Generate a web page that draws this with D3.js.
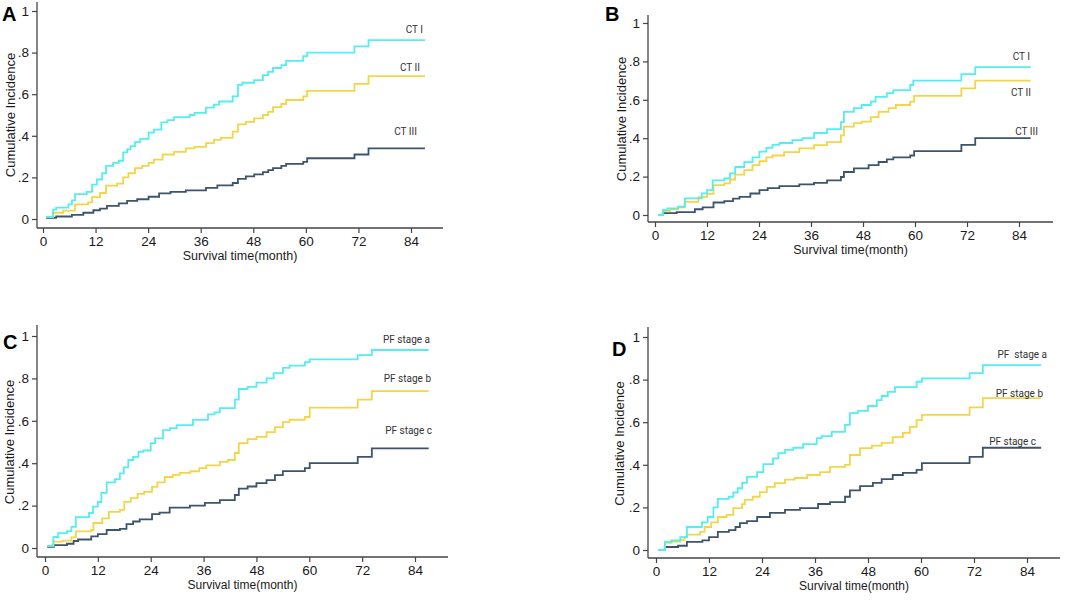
<!DOCTYPE html>
<html>
<head>
<meta charset="utf-8">
<script src="https://cdn.jsdelivr.net/npm/d3@7/dist/d3.min.js"></script>
<style>
  html, body { margin: 0; padding: 0; background: #fff; }
  svg { display: block; }
  text { font-family: "Liberation Sans", Arial, sans-serif; }
</style>
</head>
<body>
<svg id="chart" width="1065" height="601"></svg>
<script>
// ---------- data ----------
const monthTicks = [0, 12, 24, 36, 48, 60, 72, 84];
const incidenceTicks = [0, 0.2, 0.4, 0.6, 0.8, 1];
const incidenceTickLabels = ["0", ".2", ".4", ".6", ".8", "1"];
const xTitle = "Survival time(month)";
const yTitle = "Cumulative Incidence";

const panelLetters = ["A", "B", "C", "D"];
const labelsCT = ["CT I", "CT II", "CT III"];
const labelsPFc = ["PF stage a", "PF stage b", "PF stage c"];
const labelsPFd = ["PF  stage a", "PF stage b", "PF stage c"];

// [month, cumulative incidence] step points
const panelA_CT1 = [[0.7,0.01],[2.3,0.045],[3,0.055],[5.8,0.07],[6.6,0.09],[7.3,0.12],[10,0.13],[11.2,0.165],[12.3,0.19],[13.5,0.22],[14.4,0.255],[16,0.27],[17.3,0.28],[18.3,0.32],[19.2,0.335],[20,0.35],[21,0.37],[22.2,0.385],[24.1,0.415],[25.3,0.43],[27,0.465],[28.4,0.475],[29.9,0.49],[33.5,0.5],[34.6,0.51],[37.2,0.535],[39,0.55],[40.2,0.565],[43.3,0.59],[44.5,0.645],[45.5,0.655],[48.2,0.668],[50.2,0.692],[51.4,0.707],[52.5,0.726],[54.4,0.74],[55.5,0.76],[59.4,0.783],[60.3,0.80],[71.1,0.83],[74.3,0.86],[87.2,0.86]];
const panelA_CT2 = [[0.7,0.01],[2.3,0.03],[4.6,0.04],[7.3,0.07],[10.3,0.08],[11.2,0.105],[13,0.125],[14.4,0.16],[16.9,0.17],[18.3,0.2],[19.5,0.22],[21,0.245],[22.6,0.255],[24.1,0.27],[25.3,0.285],[27.3,0.31],[29.9,0.323],[32.6,0.34],[34.6,0.347],[37.2,0.365],[39,0.38],[40.6,0.39],[43.3,0.42],[44.5,0.455],[46.3,0.467],[48.2,0.484],[50.2,0.5],[51.4,0.515],[52.5,0.538],[54.4,0.553],[55.5,0.572],[59.4,0.59],[60.3,0.616],[71.1,0.65],[74.3,0.687],[87.2,0.687]];
const panelA_CT3 = [[0.7,0.005],[3,0.012],[6.6,0.02],[9.2,0.03],[11.5,0.042],[13,0.05],[14.6,0.063],[17.3,0.075],[19.2,0.087],[21.5,0.095],[24.1,0.107],[26.5,0.123],[29.1,0.13],[32.6,0.138],[37.2,0.15],[39.8,0.162],[43.3,0.173],[44.5,0.193],[46.3,0.205],[48.2,0.215],[50.2,0.225],[51.4,0.235],[52.5,0.245],[54.4,0.255],[55.5,0.265],[59.4,0.275],[60.3,0.292],[71.1,0.31],[74.3,0.34],[87.2,0.34]];

const panelB_CT1 = [[0.7,0.0],[1.8,0.026],[2.9,0.035],[5.3,0.043],[6.9,0.087],[10.8,0.113],[12,0.13],[13.3,0.18],[16,0.19],[17.3,0.217],[18.5,0.25],[20.6,0.275],[22.5,0.30],[24.1,0.33],[25.7,0.35],[27.1,0.365],[28.7,0.375],[31.7,0.39],[34,0.40],[36.7,0.427],[39.7,0.447],[42.9,0.484],[43.6,0.537],[45.9,0.557],[47.7,0.573],[49.8,0.59],[50.9,0.615],[53.5,0.635],[55,0.65],[58.9,0.677],[59.6,0.70],[70.7,0.734],[73.9,0.77],[86.7,0.77]];
const panelB_CT2 = [[0.7,0.0],[1.8,0.02],[3.5,0.03],[5.3,0.04],[6.9,0.068],[10,0.093],[12,0.11],[13.5,0.156],[16,0.165],[17.3,0.185],[18.5,0.21],[20.6,0.234],[22.5,0.26],[24.1,0.28],[25.7,0.30],[27.1,0.31],[29.8,0.327],[33.3,0.347],[36.7,0.364],[39.7,0.38],[42.9,0.415],[43.6,0.46],[45.9,0.478],[47.7,0.486],[49.8,0.51],[51.6,0.537],[53.9,0.557],[55.6,0.573],[58.9,0.59],[59.8,0.62],[70.7,0.66],[73.9,0.70],[86.7,0.70]];
const panelB_CT3 = [[0.7,0.0],[1.8,0.01],[5,0.015],[9.2,0.03],[11,0.04],[13.5,0.065],[16,0.072],[18,0.085],[19.5,0.094],[22,0.112],[24.1,0.13],[26,0.14],[28.7,0.15],[33.3,0.16],[36.7,0.167],[39.7,0.18],[42.9,0.198],[43.6,0.224],[45.9,0.243],[49.3,0.26],[51.6,0.276],[53.5,0.29],[55,0.30],[58.9,0.31],[59.8,0.333],[70.7,0.365],[73.9,0.40],[86.7,0.40]];

const panelC_PFa = [[0.5,0.01],[1.9,0.052],[3,0.07],[5,0.08],[6,0.1],[7,0.146],[10,0.165],[10.9,0.195],[12,0.217],[12.8,0.26],[14,0.31],[15.9,0.325],[17,0.352],[17.9,0.38],[18.9,0.415],[20,0.43],[21.2,0.453],[22.3,0.46],[24,0.495],[25,0.517],[26.8,0.556],[28.4,0.565],[29.9,0.58],[33.6,0.604],[37,0.63],[38.5,0.64],[39.7,0.66],[43.1,0.70],[44,0.75],[46,0.76],[48,0.78],[50.3,0.80],[51.9,0.825],[54,0.85],[55.5,0.86],[59,0.877],[60.1,0.89],[71,0.91],[74.2,0.934],[87.1,0.934]];
const panelC_PFb = [[0.5,0.01],[1.9,0.03],[4,0.035],[6,0.05],[7,0.078],[10.5,0.085],[11,0.118],[13,0.14],[14.5,0.17],[17,0.18],[18,0.218],[19.5,0.235],[21,0.255],[22.5,0.265],[24.3,0.288],[25.5,0.31],[27.2,0.335],[29,0.345],[30.6,0.354],[33,0.362],[35,0.377],[36.6,0.39],[39.7,0.406],[41.5,0.415],[43.1,0.448],[44,0.495],[46,0.514],[48,0.524],[50.3,0.547],[52.2,0.57],[54,0.594],[55.5,0.605],[59,0.618],[60.1,0.662],[71,0.70],[74.2,0.74],[87.1,0.74]];
const panelC_PFc = [[0.5,0.005],[2,0.014],[5,0.02],[6.5,0.033],[7.5,0.04],[10.5,0.055],[12,0.065],[14,0.085],[17,0.09],[18.5,0.113],[20,0.125],[21.5,0.135],[24.3,0.16],[26,0.167],[28.3,0.19],[32.9,0.2],[36.3,0.213],[39.7,0.226],[43.1,0.25],[44,0.28],[46,0.29],[48,0.306],[50.3,0.32],[52.2,0.344],[54,0.363],[59,0.377],[60.1,0.40],[71,0.43],[74.2,0.47],[87.1,0.47]];

const panelD_PFa = [[0.5,0.0],[2,0.038],[3.5,0.045],[5.5,0.06],[7,0.108],[10.4,0.13],[11.7,0.155],[13,0.2],[14,0.24],[16.5,0.25],[17.5,0.27],[18.5,0.29],[19.5,0.315],[20.6,0.343],[22.9,0.366],[24.3,0.403],[26.5,0.43],[27.7,0.455],[29.2,0.47],[31.1,0.48],[33.3,0.497],[36.4,0.525],[37.5,0.535],[39.8,0.555],[42.8,0.587],[43.9,0.643],[45.7,0.653],[48,0.676],[50,0.704],[51.1,0.723],[52.5,0.742],[54.1,0.765],[59,0.79],[60.2,0.806],[71,0.83],[74,0.868],[87.2,0.868]];
const panelD_PFb = [[0.5,0.0],[2,0.033],[3.5,0.04],[5.5,0.048],[6.5,0.06],[7,0.072],[10,0.085],[11,0.108],[12.5,0.13],[14,0.155],[16,0.165],[17.5,0.197],[19.5,0.215],[20.1,0.235],[21.9,0.25],[23.5,0.272],[25.1,0.296],[26.9,0.314],[29.2,0.33],[31.4,0.338],[34.2,0.352],[37.1,0.366],[39.4,0.39],[42.8,0.40],[43.9,0.446],[46.2,0.478],[48.9,0.49],[51.1,0.503],[53.6,0.53],[55.9,0.55],[57.5,0.578],[59,0.61],[60.2,0.634],[71,0.67],[74,0.713],[87.2,0.713]];
const panelD_PFc = [[0.5,0.0],[2,0.014],[5,0.02],[7,0.038],[10.5,0.045],[12,0.06],[14,0.085],[16.5,0.093],[18,0.108],[19,0.126],[20.6,0.136],[22.9,0.155],[25.8,0.174],[29.2,0.188],[32.6,0.197],[36.7,0.216],[39.4,0.225],[42.8,0.25],[43.9,0.28],[46.2,0.30],[49.1,0.315],[51.1,0.333],[53.6,0.352],[55.9,0.362],[59,0.376],[60.2,0.408],[71,0.437],[74,0.48],[87.2,0.48]];

const seriesColors = ["#55eef0", "#f3d548", "#3d546c"];

// ---------- layout (drawing only) ----------
const panels = [
  { letter: panelLetters[0], series: [panelA_CT1, panelA_CT2, panelA_CT3], labels: labelsCT,
    axX: 37, axTop: 2, axBottom: 228, axRight: 443, x0: 43, x84: 411, y0: 219, y1: 11,
    letterPos: [2, 21], yTitleX: 15, xTitleSize: 12.5,
    labelPos: [[423, 33], [420, 71], [417, 135]] },
  { letter: panelLetters[1], series: [panelB_CT1, panelB_CT2, panelB_CT3], labels: labelsCT,
    axX: 648, axTop: 15, axBottom: 222, axRight: 1053, x0: 655, x84: 1019, y0: 215, y1: 23,
    letterPos: [605, 21], yTitleX: 626, xTitleSize: 12.5,
    labelPos: [[1030, 60], [1031, 96], [1038, 135]] },
  { letter: panelLetters[2], series: [panelC_PFa, panelC_PFb, panelC_PFc], labels: labelsPFc,
    axX: 37, axTop: 325, axBottom: 557, axRight: 448, x0: 45, x84: 415, y0: 548, y1: 336,
    letterPos: [3, 349], yTitleX: 14, xTitleSize: 12,
    labelPos: [[430, 343], [431, 382], [432, 434]] },
  { letter: panelLetters[3], series: [panelD_PFa, panelD_PFb, panelD_PFc], labels: labelsPFd,
    axX: 648, axTop: 327, axBottom: 558, axRight: 1060, x0: 656, x84: 1027, y0: 550, y1: 337,
    letterPos: [612, 356], yTitleX: 624, xTitleSize: 12,
    labelPos: [[1047, 358], [1043, 397], [1036, 445]] }
];

const svg = d3.select("#chart");
const axisColor = "#444";

panels.forEach(p => {
  const g = svg.append("g");
  const x = d3.scaleLinear().domain([0, 84]).range([p.x0, p.x84]);
  const y = d3.scaleLinear().domain([0, 1]).range([p.y0, p.y1]);

  // axis lines
  g.append("line").attr("x1", p.axX).attr("x2", p.axX).attr("y1", p.axTop).attr("y2", p.axBottom)
    .attr("stroke", axisColor).attr("stroke-width", 1.3);
  g.append("line").attr("x1", p.axX).attr("x2", p.axRight).attr("y1", p.axBottom).attr("y2", p.axBottom)
    .attr("stroke", axisColor).attr("stroke-width", 1.3);

  // y axis ticks via d3 axis
  const yAxis = d3.axisLeft(y).tickValues(incidenceTicks)
    .tickFormat((d, i) => incidenceTickLabels[i]).tickSize(5).tickPadding(3);
  const ya = g.append("g").attr("transform", `translate(${p.axX},0)`).call(yAxis);
  ya.select(".domain").remove();
  ya.selectAll(".tick line").attr("stroke", axisColor).attr("stroke-width", 1.2);
  ya.selectAll(".tick text").attr("fill", "#1a1a1a").style("font-size", "13.5px")
    .style("font-family", "'Liberation Sans', Arial, sans-serif");

  // x axis ticks
  const xAxis = d3.axisBottom(x).tickValues(monthTicks).tickSize(5).tickPadding(3);
  const xa = g.append("g").attr("transform", `translate(0,${p.axBottom})`).call(xAxis);
  xa.select(".domain").remove();
  xa.selectAll(".tick line").attr("stroke", axisColor).attr("stroke-width", 1.2);
  xa.selectAll(".tick text").attr("fill", "#1a1a1a").style("font-size", "13.5px")
    .style("font-family", "'Liberation Sans', Arial, sans-serif");

  // titles
  g.append("text").attr("x", (p.axX + p.axRight) / 2).attr("y", p.axBottom + 32)
    .attr("text-anchor", "middle").attr("fill", "#1a1a1a").style("font-size", p.xTitleSize + "px")
    .text(xTitle);
  g.append("text")
    .attr("transform", `translate(${p.yTitleX},${(p.y0 + p.y1) / 2}) rotate(-90)`)
    .attr("text-anchor", "middle").attr("fill", "#1a1a1a").style("font-size", "13px")
    .text(yTitle);

  // panel letter
  g.append("text").attr("x", p.letterPos[0]).attr("y", p.letterPos[1])
    .attr("font-weight", "bold").attr("fill", "#000").style("font-size", "20px")
    .text(p.letter);

  // step curves (navy first, then yellow, then cyan on top)
  const line = d3.line().x(d => x(d[0])).y(d => y(d[1])).curve(d3.curveStepAfter);
  [2, 1, 0].forEach(i => {
    g.append("path").datum(p.series[i]).attr("d", line)
      .attr("fill", "none").attr("stroke", seriesColors[i]).attr("stroke-width", 1.8);
  });

  // series labels
  p.labels.forEach((lab, i) => {
    g.append("text").attr("x", p.labelPos[i][0]).attr("y", p.labelPos[i][1])
      .attr("text-anchor", "end").attr("fill", "#333")
      .style("font-family", "Roboto, 'Noto Sans', sans-serif")
      .style("font-size", "10px").style("white-space", "pre")
      .text(lab);
  });
});
</script>
</body>
</html>
